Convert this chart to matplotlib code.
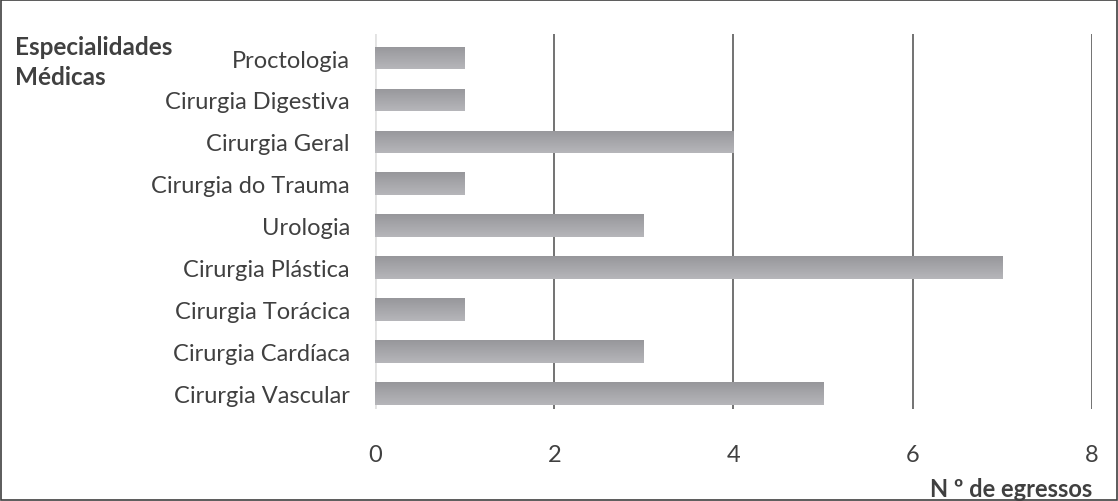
import numpy as np
import matplotlib.pyplot as plt
from matplotlib.colors import LinearSegmentedColormap
from matplotlib.patches import Rectangle

especialidades = ["Cirurgia Vascular", "Cirurgia Cardíaca", "Cirurgia Torácica",
                  "Cirurgia Plástica", "Urologia", "Cirurgia do Trauma",
                  "Cirurgia Geral", "Cirurgia Digestiva", "Proctologia"]
egressos = [5, 3, 1, 7, 3, 1, 4, 1, 1]
xticks = [0, 2, 4, 6, 8]

plt.rcParams['font.family'] = ['Lato', 'DejaVu Sans']

fig = plt.figure(figsize=(11.18, 5.02), dpi=100)
ax = fig.add_axes([0.3354, 0.183, 0.6413, 0.747])

y = np.arange(len(especialidades))
bars = ax.barh(y, egressos, height=0.54, color="#a8a8ac", zorder=3)

# gradiente vertical dentro de cada barra
cmap = LinearSegmentedColormap.from_list("g", ["#b6b6ba", "#97979b"])
grad = np.linspace(0, 1, 100).reshape(-1, 1)
for b in bars:
    x0, y0 = b.get_x(), b.get_y()
    w, h = b.get_width(), b.get_height()
    im = ax.imshow(grad, extent=[x0, x0 + w, y0, y0 + h], origin="lower",
                   cmap=cmap, aspect="auto", zorder=4)
    im.set_clip_path(b)

ax.set_xlim(0, 8)
ax.set_ylim(-0.38, 8.57)
ax.set_xticks(xticks)
ax.set_yticks(y)
ax.set_yticklabels(especialidades)
ax.grid(axis="x", color="#5a5a5a", linewidth=1.2, zorder=1)
ax.axvline(0, color="#e2e2e2", linewidth=2, zorder=2)
for s in ax.spines.values():
    s.set_visible(False)
ax.tick_params(axis="both", length=0, labelsize=17, colors="#404040")
ax.tick_params(axis="x", pad=25)
ax.tick_params(axis="y", pad=18)

fig.text(0.013, 0.906, "Especialidades", fontsize=17.5, fontweight="bold",
         color="#404040", va="center", ha="left")
fig.text(0.013, 0.845, "Médicas", fontsize=17.5, fontweight="bold",
         color="#404040", va="center", ha="left")
fig.text(0.977, 0.024, "N º de egressos", fontsize=17, fontweight="bold",
         color="#404040", va="center", ha="right")

fig.add_artist(Rectangle((0.001, 0.002), 0.998, 0.996, transform=fig.transFigure,
                         fill=False, edgecolor="#404040", linewidth=1.2))

fig.savefig("out.png", dpi=100)
